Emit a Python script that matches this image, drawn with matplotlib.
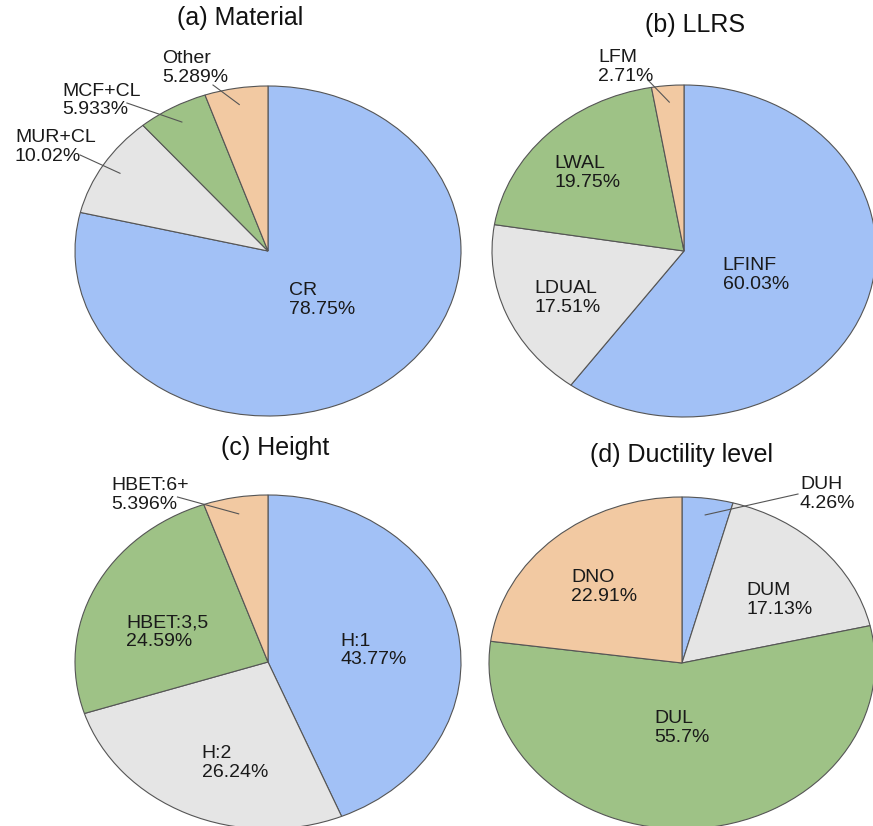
import matplotlib
matplotlib.use("Agg")
import matplotlib.pyplot as plt
import numpy as np

plt.rcParams['font.family'] = ['Liberation Sans', 'DejaVu Sans']

# Building-stock composition (% of buildings)
material_labels = ["CR", "MUR+CL", "MCF+CL", "Other"]
material_values = [78.75, 10.02, 5.933, 5.289]

llrs_labels = ["LFINF", "LDUAL", "LWAL", "LFM"]
llrs_values = [60.03, 17.51, 19.75, 2.71]

height_labels = ["H:1", "H:2", "HBET:3,5", "HBET:6+"]
height_values = [43.77, 26.24, 24.59, 5.396]

ductility_labels = ["DUH", "DUM", "DUL", "DNO"]
ductility_values = [4.26, 17.13, 55.7, 22.91]

titles = ["(a) Material", "(b) LLRS", "(c) Height", "(d) Ductility level"]

colors = ["#a2c1f6", "#e5e5e5", "#9ec286", "#f2c9a2"]
edge = "#555555"

W, H = 873, 826
fig = plt.figure(figsize=(W / 100, H / 100), dpi=100)


def rect(cx, cy, rx, ry):
    return [(cx - rx) / W, (H - (cy + ry)) / H, 2 * rx / W, 2 * ry / H]


# layout of each panel: ellipse box (px), title position (px),
# inside-label placement (radius, angular nudge) or None for outside labels,
# outside labels: (text x, text y, leader end x, leader end y) in pie units
panels = [
    dict(labels=material_labels, values=material_values,
         box=(268, 251, 193, 165), title=(240, 18),
         inside=[(0.41, 5), None, None, None],
         outside={"MUR+CL": (-1.311, 0.630, -0.974, 0.582),
                  "MCF+CL": (-1.067, 0.912, -0.731, 0.897),
                  "Other": (-0.549, 1.109, -0.285, 1.006)}),
    dict(labels=llrs_labels, values=llrs_values,
         box=(684, 251, 192, 166), title=(695, 25),
         inside=[(0.40, -3), (0.67, 2.5), (0.69, 1.5), None],
         outside={"LFM": (-0.448, 1.108, -0.188, 1.030)}),
    dict(labels=height_labels, values=height_values,
         box=(268, 662, 193, 167), title=(275, 448),
         inside=[(0.55, -4), (0.63, 9), (0.55, 7.5), None],
         outside={"HBET:6+": (-0.8125, 1.0, -0.469, 0.988)}),
    dict(labels=ductility_labels, values=ductility_values,
         box=(682, 663, 193, 166), title=(682, 455),
         inside=[None, (0.63, -7), (0.39, -2.7), (0.61, 0)],
         outside={"DUH": (0.611, 1.018, 0.601, 1.018)}),
]

FS = 14
LS = 1.14
for p, title in zip(panels, titles):
    ax = fig.add_axes(rect(*p["box"]))
    wedges, _ = ax.pie(p["values"], colors=colors, startangle=90,
                       counterclock=False,
                       wedgeprops=dict(edgecolor=edge, linewidth=0.8))
    ax.set_aspect('auto')
    ax.set_xlim(-1, 1)
    ax.set_ylim(-1, 1)
    for w, lab, val, ins in zip(wedges, p["labels"], p["values"], p["inside"]):
        mid = np.deg2rad((w.theta1 + w.theta2) / 2)
        txt = f"{lab}\n{val:.4g}%"
        if ins is not None:
            r, dth = ins
            a = mid + np.deg2rad(dth)
            ax.text(r * np.cos(a), r * np.sin(a), txt, ha='center', va='center',
                    multialignment='left', fontsize=FS, linespacing=LS,
                    color="#1a1a1a")
        else:
            tx, ty, lx, ly = p["outside"][lab]
            ax.text(tx, ty, txt, ha='left', va='center', multialignment='left',
                    fontsize=FS, linespacing=LS, color="#1a1a1a", clip_on=False)
            ax.plot([0.9 * np.cos(mid), lx], [0.9 * np.sin(mid), ly],
                    color=edge, lw=0.8, clip_on=False)
    tx, ty = p["title"]
    fig.text(tx / W, 1 - ty / H, title, ha='center', va='center', fontsize=18,
             color="#111111")

fig.savefig("out.png", dpi=100)
